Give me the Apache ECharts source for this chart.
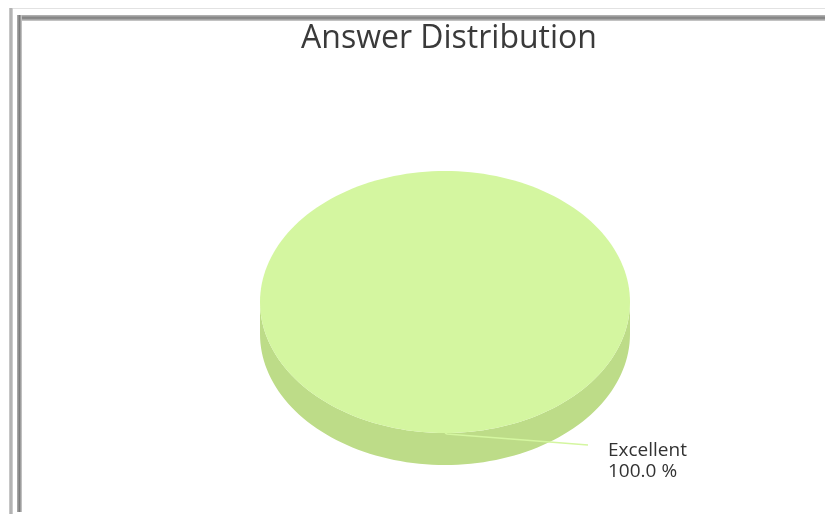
<!DOCTYPE html>
<html>
<head>
<meta charset="utf-8">
<title>Answer Distribution</title>
<script src="https://cdn.jsdelivr.net/npm/echarts@6/dist/echarts.min.js"></script>
<style>
  html, body { margin: 0; padding: 0; background: #fff; }
  #chart { width: 825px; height: 516px; }
</style>
</head>
<body>
<div id="chart"></div>
<script>
// data
const categories = ['Excellent']
const answerCounts = [1]
const sliceColors = ['#d4f6a0']
const sideColors = ['#bddc88']

const myChart = echarts.init(document.getElementById('chart'))

// 3D-looking pie: top ellipse + front side, drawn per slice
const total = answerCounts.reduce((a, b) => a + b, 0)

function ellipsePts (cx, cy, rx, ry, a0, a1, dy) {
  const pts = []
  const steps = Math.max(2, Math.ceil((a1 - a0) / (Math.PI / 90)))
  for (let i = 0; i <= steps; i++) {
    const t = a0 + (a1 - a0) * i / steps
    pts.push([cx + rx * Math.cos(t), cy + ry * Math.sin(t) + (dy || 0)])
  }
  return pts
}

const renderPie = (params, api) => {
  const idx = params.dataIndex
  const value = api.value(0)
  // start at the top like the original chart
  let start = -Math.PI / 2
  for (let i = 0; i < idx; i++) start += answerCounts[i] / total * Math.PI * 2
  const end = start + value / total * Math.PI * 2
  const mid = (start + end) / 2

  const cx = 445, cy = 302, rx = 185, ry = 131, depth = 32
  const children = []

  // front side, only the part of the slice facing the viewer (0..PI)
  const s0 = Math.max(start, 0), s1 = Math.min(end, Math.PI)
  const s2 = Math.max(start, 2 * Math.PI), s3 = Math.min(end, 3 * Math.PI)
  ;[[s0, s1], [s2, s3]].forEach(([a, b]) => {
    if (b > a) {
      const topArc = ellipsePts(cx, cy, rx, ry, a, b, 0)
      const botArc = ellipsePts(cx, cy, rx, ry, a, b, depth).reverse()
      children.push({
        type: 'polygon',
        shape: { points: topArc.concat(botArc) },
        style: { fill: sideColors[idx % sideColors.length] }
      })
    }
  })

  const full = value / total >= 0.9999
  const topPts = ellipsePts(cx, cy, rx, ry, start, end, 0)
  children.push({
    type: 'polygon',
    shape: { points: full ? topPts : [[cx, cy]].concat(topPts) },
    style: { fill: sliceColors[idx % sliceColors.length] }
  })

  // label with connector
  const ex = cx + rx * Math.cos(mid), ey = cy + ry * Math.sin(mid)
  const lx = ex + 143, ly = ey + 12
  children.push({
    type: 'polyline',
    shape: { points: [[ex, ey], [ex + 2, ey + 1], [lx, ly]] },
    style: { stroke: sliceColors[idx % sliceColors.length], lineWidth: 1.5, fill: null }
  })
  const pct = (value / total * 100).toFixed(1)
  children.push({
    type: 'text',
    x: lx + 20,
    y: ly + 16,
    style: {
      text: categories[idx] + '\n' + pct + ' %',
      fill: '#333',
      font: '19px "Open Sans"',
      lineHeight: 21,
      align: 'left',
      verticalAlign: 'middle'
    }
  })

  return { type: 'group', children }
}

const band = (c1, c2, c3, vertical) => new echarts.graphic.LinearGradient(
  vertical ? 0 : 0, 0, vertical ? 1 : 0, vertical ? 0 : 1,
  [{ offset: 0, color: c1 }, { offset: 0.5, color: c2 }, { offset: 1, color: c3 }]
)

const option = {
  backgroundColor: '#fff',
  animation: false,
  title: {
    text: 'Answer Distribution',
    left: 444,
    top: 18,
    textAlign: 'center',
    textStyle: {
      fontFamily: 'Open Sans',
      fontSize: 32,
      fontWeight: 'normal',
      color: '#3a3a3a'
    }
  },
  graphic: [
    // frame: faint outer line on top, gray bands on left and top
    { type: 'rect', shape: { x: 9, y: 8, width: 820, height: 1 }, style: { fill: '#e2e2e2' } },
    { type: 'rect', shape: { x: 9, y: 8, width: 4, height: 506 }, style: { fill: band('#d0d0d0', '#a8a8a8', '#d8d8d8', true) } },
    { type: 'rect', shape: { x: 17, y: 15, width: 810, height: 6 }, style: { fill: band('#b8b8b8', '#7c7c7c', '#d0d0d0', false) } },
    { type: 'rect', shape: { x: 17, y: 15, width: 5, height: 497 }, style: { fill: band('#b0b0b0', '#7c7c7c', '#d0d0d0', true) } }
  ],
  series: [
    {
      type: 'custom',
      coordinateSystem: 'none',
      renderItem: renderPie,
      data: answerCounts.map(v => [v])
    }
  ]
}

myChart.setOption(option)

window.onresize = () => {
  myChart.resize()
}
</script>
</body>
</html>
